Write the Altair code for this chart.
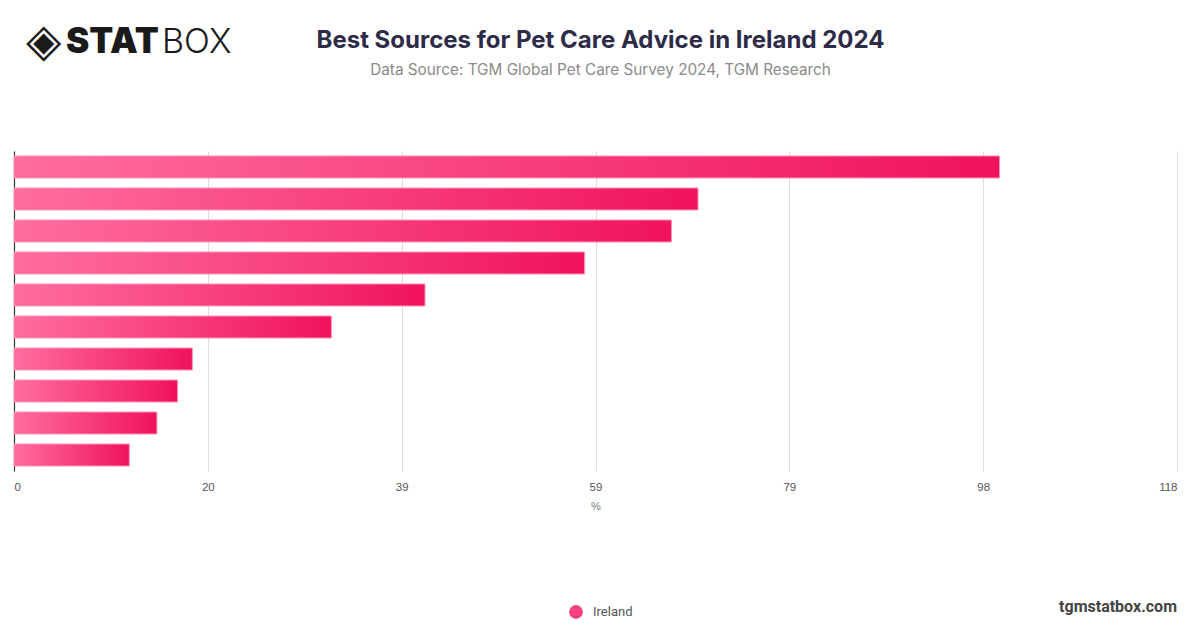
import altair as alt
import pandas as pd

categories = [
    "Veterinarians",
    "Internet / websites",
    "Family and friends",
    "Pet stores",
    "Social media",
    "Breeders",
    "Books and magazines",
    "Pet trainers",
    "TV / radio",
    "Other",
]
values = [100.0, 69.4, 66.7, 57.9, 41.7, 32.2, 18.1, 16.6, 14.5, 11.7]
series_name = "Ireland"
x_ticks = [0, 118 / 6, 118 * 2 / 6, 59, 118 * 4 / 6, 118 * 5 / 6, 118]
title_text = "Best Sources for Pet Care Advice in Ireland 2024"
subtitle_text = "Data Source: TGM Global Pet Care Survey 2024, TGM Research"

df = pd.DataFrame({"source": categories, "value": values, "country": series_name})

W, H = 1163, 320

x_enc = alt.X(
    "value:Q",
    scale=alt.Scale(domain=[0, 118], nice=False, zero=True),
    axis=alt.Axis(
        values=x_ticks,
        format=".0f",
        title="%",
        grid=True,
        gridColor="#dcdcdc",
        gridWidth=1,
        domain=False,
        ticks=False,
        labelPadding=10,
        labelFont="Liberation Sans",
        labelFontSize=11.5,
        labelColor="#555555",
        titleFont="Liberation Sans",
        titleFontSize=11,
        titleFontWeight="normal",
        titleColor="#777777",
        titlePadding=8,
    ),
)
y_enc = alt.Y(
    "source:N",
    sort=categories,
    scale=alt.Scale(paddingInner=0.3125, paddingOuter=0.156),
    axis=alt.Axis(
        title=None,
        labels=False,
        ticks=False,
        domain=True,
        domainColor="#333333",
        domainWidth=1.2,
        grid=False,
    ),
)

grad = alt.Gradient(
    gradient="linear",
    x1=0, x2=1, y1=0, y2=0,
    stops=[
        alt.GradientStop(offset=0, color="#ff6d9e"),
        alt.GradientStop(offset=1, color="#f0125f"),
    ],
)

bars = alt.Chart(df).mark_bar(
    fill=grad, stroke="#ff93b8", strokeWidth=1, cornerRadius=0
).encode(x=x_enc, y=y_enc, tooltip=["source", "value"])

legend_pts = alt.Chart(df).mark_point(filled=True, opacity=0).encode(
    x="value:Q",
    y=alt.Y("source:N", sort=categories),
    color=alt.Color(
        "country:N",
        scale=alt.Scale(range=["#f7427f"]),
        legend=alt.Legend(
            title=None,
            orient="none",
            legendX=555,
            legendY=454,
            symbolType="circle",
            symbolSize=190,
            symbolOpacity=1,
            symbolStrokeWidth=0,
            labelFont="Roboto",
            labelFontSize=13,
            labelColor="#555555",
            labelOffset=10,
        ),
    ),
)


def text_layer(t, **kw):
    x = kw.pop("x")
    y = kw.pop("y")
    return alt.Chart(pd.DataFrame({"t": [t]})).mark_text(baseline="alphabetic", **kw).encode(
        text="t:N", x=alt.value(x), y=alt.value(y)
    )


logo_icon = text_layer("◈", font="DejaVu Sans", fontSize=46, color="#1a1a1a", align="left", x=12, y=-95)
logo_stat = text_layer("STAT", font="Inter", fontSize=35, fontWeight=900, color="#1a1a1a", align="left", x=52, y=-98)
logo_box = text_layer("BOX", font="Inter", fontSize=34, fontWeight=300, color="#1a1a1a", align="left", x=148, y=-98)
title = text_layer(title_text, font="Inter", fontSize=24, fontWeight="bold", color="#2e2b48", align="center", x=586.5, y=-103)
subtitle = text_layer(subtitle_text, font="Inter", fontSize=15.3, color="#8a8a8a", align="center", x=586.5, y=-76)
watermark = text_layer("tgmstatbox.com", font="Roboto", fontSize=16, fontWeight="bold", color="#444444", align="right", x=1163, y=461)

chart = alt.layer(bars, legend_pts, logo_icon, logo_stat, logo_box, title, subtitle, watermark).properties(
    width=W,
    height=H,
    padding={"left": 6, "top": 143, "right": 15, "bottom": 149},
    autosize=alt.AutoSizeParams(type="none"),
).configure_view(stroke=None)

chart.save("out.html", embed_options={"renderer": "svg", "actions": False})
